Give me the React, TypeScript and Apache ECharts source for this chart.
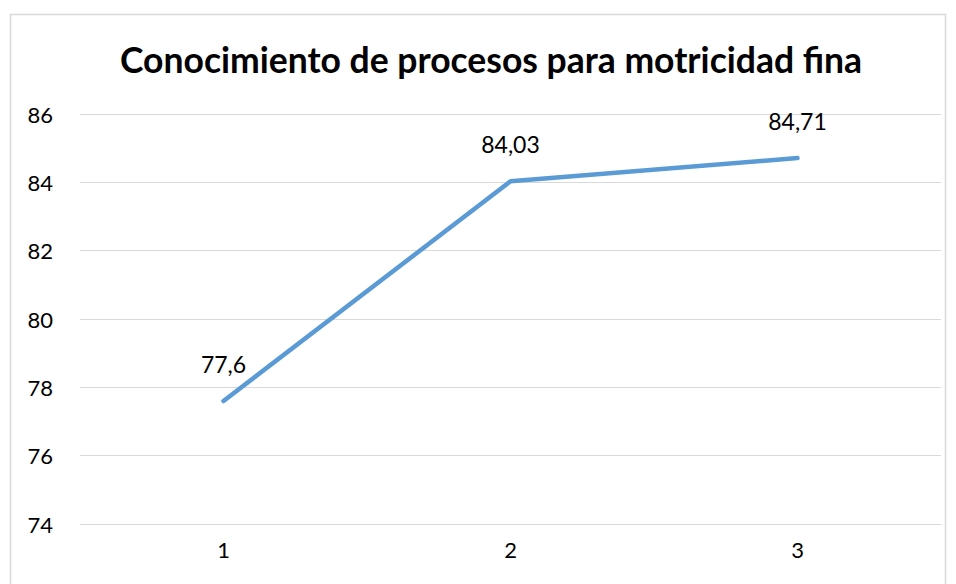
import React, { useEffect, useRef } from "react";
import * as echarts from "echarts";

const title = "Conocimiento de procesos para motricidad fina";
const categories = ["1", "2", "3"];
const values = [77.6, 84.03, 84.71];
const yMin = 74;
const yMax = 86;
const yInterval = 2;

const FONT = "Lato, 'Open Sans', sans-serif";

export default function App() {
  const ref = useRef<HTMLDivElement>(null);
  useEffect(() => {
    document.body.style.margin = "0";
    const chart = echarts.init(ref.current!, undefined, { renderer: "svg" });
    chart.setOption({
      animation: false,
      backgroundColor: "#ffffff",
      graphic: [
        {
          type: "rect",
          shape: { x: 10.5, y: 14.5, width: 935, height: 600 },
          style: { fill: "none", stroke: "#d9d9d9", lineWidth: 1.5 },
          silent: true,
        },
      ],
      title: {
        text: title,
        left: 486,
        top: 36,
        textAlign: "center",
        textStyle: { fontFamily: FONT, fontWeight: "bold", fontSize: 35.5, color: "#000" },
      },
      grid: { left: 80, right: 15, top: 114, bottom: 60 },
      xAxis: {
        type: "category",
        data: categories,
        boundaryGap: true,
        axisLine: { show: true, lineStyle: { color: "#d9d9d9", width: 1 } },
        axisTick: { show: false },
        axisLabel: { fontFamily: FONT, fontSize: 22, color: "#000", margin: 14 },
      },
      yAxis: {
        type: "value",
        min: yMin,
        max: yMax,
        interval: yInterval,
        axisLine: { show: false },
        axisTick: { show: false },
        splitLine: { lineStyle: { color: "#d9d9d9", width: 1 } },
        axisLabel: { fontFamily: FONT, fontSize: 22, color: "#000", margin: 27 },
      },
      series: [
        {
          type: "line",
          data: values,
          showSymbol: true,
          symbol: "circle",
          symbolSize: 2,
          itemStyle: { color: "rgba(91,155,213,0)" },
          lineStyle: { color: "#5b9bd5", width: 4.5, cap: "round", join: "round" },
          label: {
            show: true,
            position: "top",
            distance: 25,
            fontFamily: FONT,
            fontSize: 23,
            color: "#000",
            formatter: (p: any) => String(p.value).replace(".", ","),
          },
        },
      ],
    });
    return () => chart.dispose();
  }, []);
  return <div ref={ref} style={{ position: "fixed", left: 0, top: 0, width: 956, height: 584 }} />;
}
